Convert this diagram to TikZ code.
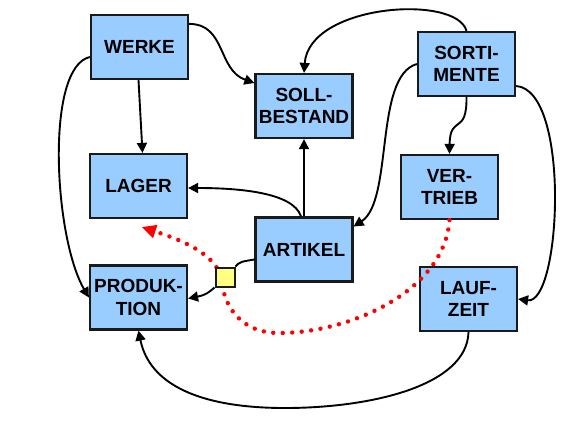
\documentclass[tikz,border=0pt]{standalone}
\usepackage{fontspec}
\setmainfont{Liberation Sans}
\usetikzlibrary{arrows.meta}
\pgfdeclarelayer{background}
\pgfdeclarelayer{front}
\pgfsetlayers{background,main,front}
\definecolor{boxblue}{HTML}{99CCFF}
\definecolor{boxedge}{HTML}{1A1A1A}
\definecolor{sqyellow}{HTML}{FFFF80}
\definecolor{dotred}{HTML}{FF0000}
\begin{document}
\begin{tikzpicture}[x=1pt,y=-1pt,
  entity/.style={draw=boxedge,line width=2.2pt,fill=boxblue,minimum width=97pt,minimum height=64pt,inner sep=0pt,align=center,font=\fontsize{19}{22.5}\selectfont\bfseries},
  junction/.style={draw=boxedge,line width=2pt,fill=sqyellow,minimum size=19pt,inner sep=0pt},
  link/.style={draw=black,line width=1.9pt,-{Triangle[length=10pt,width=10pt]}},
  plainlink/.style={draw=black,line width=1.9pt},
  redlink/.style={draw=dotred,line width=4.4pt,line cap=round,dash pattern=on 0pt off 9.5pt,-{Triangle[length=14pt,width=14pt,line width=0pt]}}]
\useasboundingbox (0,0) rectangle (575,432);
\begin{pgfonlayer}{background}
\fill[white] (0,0) rectangle (575,432);
\end{pgfonlayer}

\node[entity] (werke) at (139.5,47) {WERKE};
\node[entity] (soll) at (304,106) {SOLL-\\BESTAND};
\node[entity] (lager) at (138.5,186) {LAGER};
\node[entity] (sorti) at (466.5,64) {SORTI-\\MENTE};
\node[entity] (vertrieb) at (449.5,187) {VER-\\TRIEB};
\node[entity] (artikel) at (304,249.5) {ARTIKEL};
\node[entity] (prod) at (138.5,297.5) {PRODUK-\\TION};
\node[entity] (lauf) at (468.5,299) {LAUF-\\ZEIT};
\begin{pgfonlayer}{front}
\node[junction] (junc) at (225,277) {};
\end{pgfonlayer}

\coordinate (r1) at (279,333);
\coordinate (r2) at (222,282);
\coordinate (lb) at (285,408);

\draw[link] ([yshift=-10pt]werke.north east) .. controls +(37,0) and +(-37,-13) .. ([yshift=23pt]soll.west);
\draw[link] ([xshift=-1pt]werke.south) -- ([xshift=4pt]lager.north);
\draw[link] ([yshift=-10pt]werke.west) .. controls +(-45,10) and +(-35,-60) .. (prod.west);
\draw[link] (sorti.north) .. controls +(-10,-37) and +(5,-69) .. (soll.north);
\draw[link] (sorti.west) .. controls +(-43,12) and +(40,-26) .. ([yshift=23pt]artikel.east);
\draw[link] (sorti.south) .. controls +(0.5,39) and +(0.5,-40) .. (vertrieb.north);
\draw[link] ([yshift=-22pt]sorti.east) .. controls +(55,4) and +(43,6) .. (lauf.east);
\draw[link] (artikel.north) -- (soll.south);
\draw[link] ([xshift=-3pt]artikel.north) .. controls +(-8,-25) and +(46,0) .. ([yshift=-2pt]lager.east);
\draw[plainlink] ([yshift=-10pt]artikel.west) .. controls +(-12,2) and +(4,-5) .. (junc.north east);
\draw[link] (junc.south west) .. controls +(-8,7) and +(15,-3) .. ([yshift=-1pt]prod.east);
\draw[link] (lauf.south) .. controls +(-1.5,54) and +(85,0) .. (lb) .. controls +(-85,0) and +(11,54) .. (prod.south);

\draw[redlink] (vertrieb.south) .. controls +(-5,71) and +(71,0) .. (r1) .. controls +(-39,0) and +(2,23) .. (r2) .. controls +(-3,-30) and +(30,10) .. ([xshift=3.5pt,yshift=-8pt]lager.south);
\end{tikzpicture}
\end{document}
